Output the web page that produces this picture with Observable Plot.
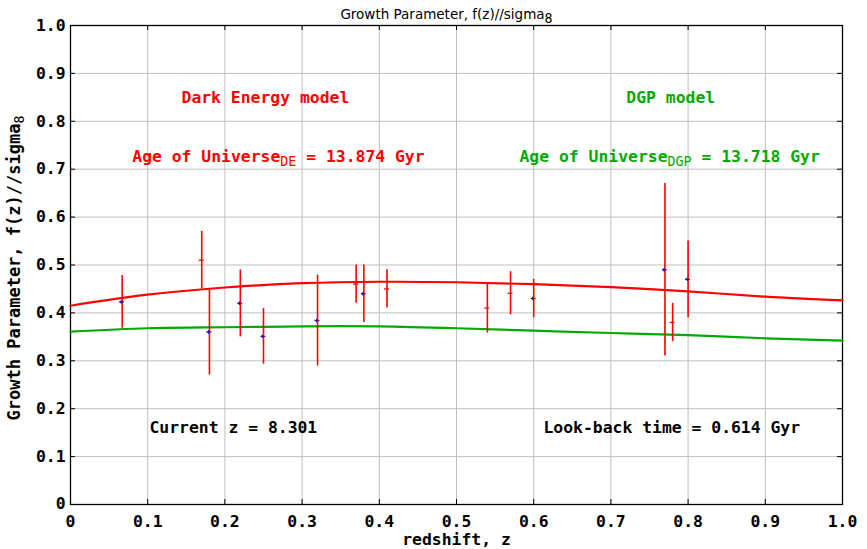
<!DOCTYPE html>
<html>
<head>
<meta charset="utf-8">
<script src="https://cdn.jsdelivr.net/npm/d3@7"></script>
<script src="https://cdn.jsdelivr.net/npm/@observablehq/plot@0.6"></script>
<style>
  html, body { margin: 0; padding: 0; background: #ffffff; }
  #chart { width: 867px; height: 549px; }
</style>
</head>
<body>
<div id="chart"></div>
<script>
// ---- data ----
const zCurve = [0, 0.1, 0.2, 0.3, 0.4, 0.5, 0.6, 0.7, 0.8, 0.9, 1.0];
const fDE    = [0.415, 0.438, 0.453, 0.462, 0.465, 0.464, 0.460, 0.454, 0.445, 0.434, 0.426];
const fDGP   = [0.361, 0.368, 0.370, 0.372, 0.372, 0.368, 0.363, 0.358, 0.3535, 0.347, 0.342];

const zObs   = [0.067, 0.17, 0.18, 0.22, 0.25, 0.32, 0.37, 0.38, 0.41, 0.54, 0.57, 0.60, 0.77, 0.78, 0.80];
const fObs   = [0.423, 0.51, 0.36, 0.42, 0.351, 0.384, 0.46, 0.44, 0.45, 0.41, 0.441, 0.43, 0.49, 0.38, 0.47];
const errObs = [0.055, 0.06, 0.09, 0.07, 0.058, 0.095, 0.04, 0.06, 0.04, 0.052, 0.045, 0.04, 0.18, 0.04, 0.08];
const blueZ  = [0.067, 0.18, 0.22, 0.25, 0.32, 0.38, 0.60, 0.77, 0.80];

const xTicks = [0, 0.1, 0.2, 0.3, 0.4, 0.5, 0.6, 0.7, 0.8, 0.9, 1.0];
const yTicks = [0, 0.1, 0.2, 0.3, 0.4, 0.5, 0.6, 0.7, 0.8, 0.9, 1.0];

const titleText = "Growth Parameter, f(z)//sigma_{8}";
const yLabelText = "Growth Parameter, f(z)//sigma_{8}";
const xLabelText = "redshift, z";

const annotations = [
  {x: 0.1438, y: 0.850, text: "Dark Energy model", color: "#ff0000"},
  {x: 0.0800, y: 0.7255, text: "Age of Universe_{DE} = 13.874 Gyr", color: "#ff0000"},
  {x: 0.7200, y: 0.850, text: "DGP model", color: "#00aa00"},
  {x: 0.5816, y: 0.7255, text: "Age of Universe_{DGP} = 13.718 Gyr", color: "#00aa00"},
  {x: 0.1023, y: 0.1597, text: "Current z = 8.301", color: "#000000"},
  {x: 0.6127, y: 0.1597, text: "Look-back time = 0.614 Gyr", color: "#000000"}
];

// ---- tables ----
const curveDE = zCurve.map((z, i) => ({z, f: fDE[i]}));
const curveDGP = zCurve.map((z, i) => ({z, f: fDGP[i]}));
const obs = zObs.map((z, i) => ({z, f: fObs[i], lo: fObs[i] - errObs[i], hi: fObs[i] + errObs[i]}));
const blueObs = obs.filter(d => blueZ.includes(d.z));

const fmt = d => d === 0 ? "0" : d.toFixed(1);
const plotW = 867 - 70 - 25, plotH = 549 - 25 - 45;

const svg = Plot.plot({
  width: 867,
  height: 549,
  marginLeft: 70,
  marginRight: 25,
  marginTop: 25,
  marginBottom: 45,
  style: {
    fontFamily: "'DejaVu Sans Mono', monospace",
    fontWeight: "bold",
    fontSize: "16.4px",
    background: "#ffffff",
    color: "#000000",
    overflow: "visible"
  },
  x: {domain: [0, 1], ticks: xTicks, tickFormat: fmt, tickSize: 0, tickPadding: 11, label: null},
  y: {domain: [0, 1], ticks: yTicks, tickFormat: fmt, tickSize: 0, tickPadding: 5, label: null},
  marks: [
    Plot.ruleX(xTicks, {stroke: "#bfbfbf", strokeWidth: 1}),
    Plot.ruleY(yTicks, {stroke: "#bfbfbf", strokeWidth: 1}),
    // inward tick marks on all sides
    Plot.ruleX(xTicks, {stroke: "#000", insetTop: plotH - 5}),
    Plot.ruleX(xTicks, {stroke: "#000", insetBottom: plotH - 5}),
    Plot.ruleY(yTicks, {stroke: "#000", insetRight: plotW - 5}),
    Plot.ruleY(yTicks, {stroke: "#000", insetLeft: plotW - 5}),
    Plot.frame({stroke: "#000", strokeWidth: 1.3}),
    // model curves
    Plot.line(curveDE, {x: "z", y: "f", stroke: "#ff0000", strokeWidth: 2.2, curve: "natural"}),
    Plot.line(curveDGP, {x: "z", y: "f", stroke: "#00aa00", strokeWidth: 2.2, curve: "natural"}),
    // observations
    Plot.ruleX(obs, {x: "z", y1: "lo", y2: "hi", stroke: "#ff0000", strokeWidth: 1.6}),
    Plot.ruleY(obs, {y: "f", x1: "z", x2: "z", insetLeft: -2.5, insetRight: -2.5, stroke: "#ff0000", strokeWidth: 1.3}),
    Plot.dot(blueObs, {x: "z", y: "f", symbol: "plus", r: 1.2, stroke: "#0000ff", strokeWidth: 1.1, dx: -1}),
    // annotations
    Plot.text(annotations, {x: "x", y: "y", text: "text", fill: "color", textAnchor: "start", lineAnchor: "middle", fontSize: 16.4, fontWeight: "bold"}),
    // title and axis labels
    Plot.text([titleText], {frameAnchor: "top", textAnchor: "middle", dy: -11, lineAnchor: "middle", dx: -10,
      fontFamily: "'DejaVu Sans', sans-serif", fontWeight: "normal", fontSize: 13.5, fill: "#000"}),
    Plot.text([xLabelText], {frameAnchor: "bottom", textAnchor: "middle", dy: 35, lineAnchor: "middle", fill: "#000"}),
    Plot.text([yLabelText], {frameAnchor: "left", textAnchor: "middle", dx: -56, dy: 3, rotate: -90, lineAnchor: "middle", fill: "#000", fontSize: 17})
  ]
});

// subscripts: text_{sub}rest
d3.select(svg).selectAll("text").each(function() {
  if (this.querySelector("tspan")) return;
  const t = this.textContent;
  const m = t.match(/^(.*)_\{(.+?)\}(.*)$/);
  if (!m) return;
  const sel = d3.select(this);
  sel.text(null);
  sel.append("tspan").text(m[1]);
  const sub = sel.append("tspan").attr("dy", 4).text(m[2]);
  const fam = this.getAttribute("font-family") || "";
  if (fam.indexOf("Mono") === -1 && fam !== "") {
    sub.attr("font-size", 10).attr("font-weight", "bold");
  } else {
    sub.attr("font-size", 13.3).attr("font-weight", "normal").attr("font-family", "'DejaVu Sans Mono', monospace");
  }
  if (m[3]) sel.append("tspan").attr("dy", -4).text(m[3]);
});

// the y "0" label sits slightly above the axis in the reference
d3.select(svg).selectAll('g[aria-label="y-axis tick label"] text')
  .filter(function() { return this.textContent === "0"; })
  .attr("dy", "-0.05em");

document.getElementById("chart").appendChild(svg);
</script>
</body>
</html>
